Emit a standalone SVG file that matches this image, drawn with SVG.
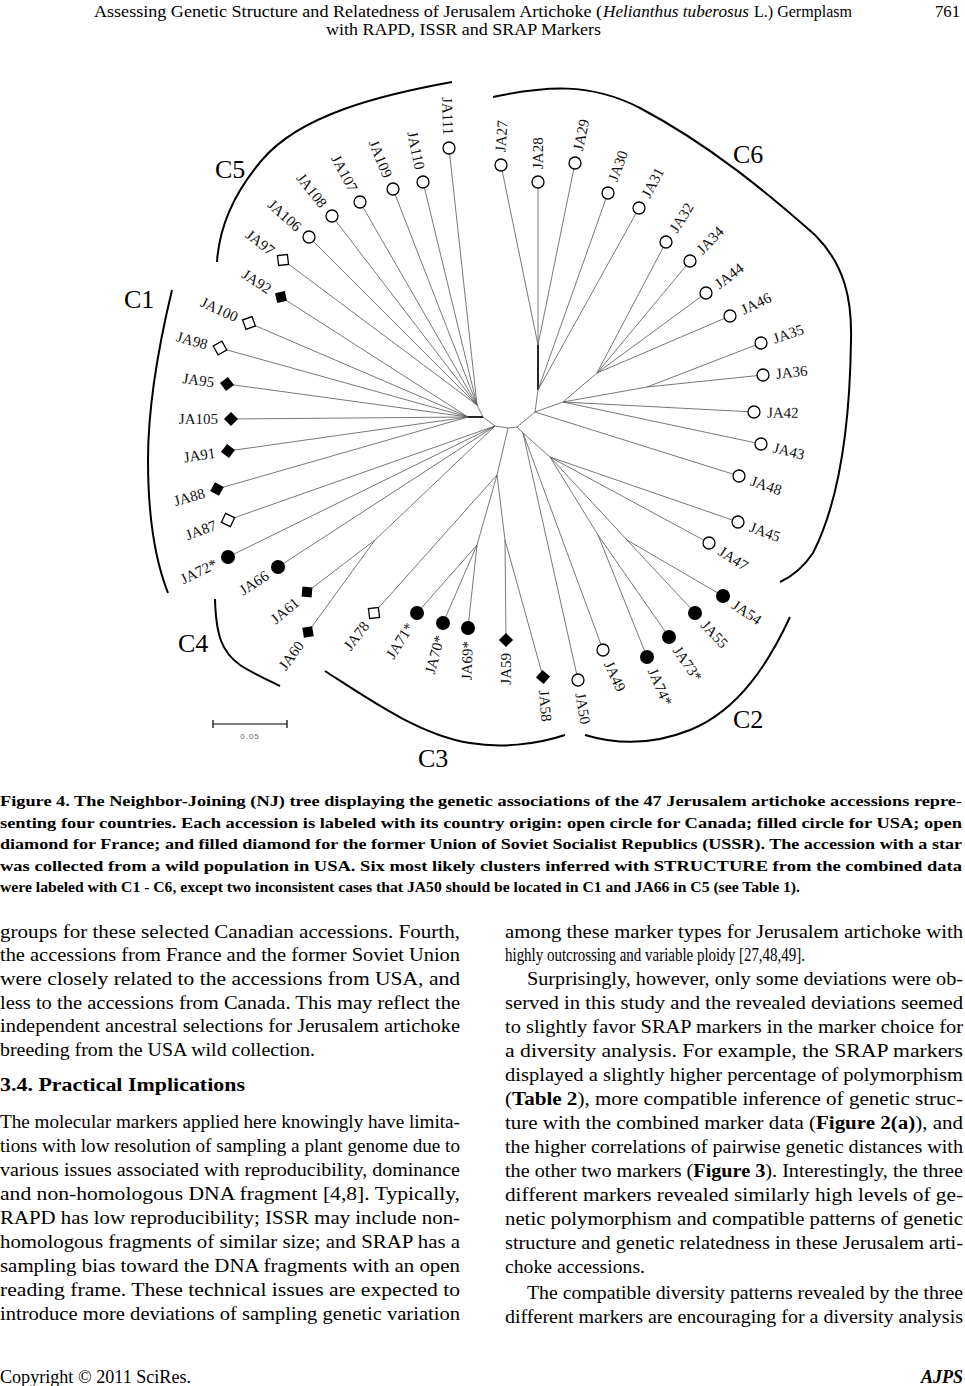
<svg xmlns="http://www.w3.org/2000/svg" xmlns:xlink="http://www.w3.org/1999/xlink" width="965" height="1386" viewBox="0 0 965 1386">
<style>
.br{stroke:#555;stroke-width:0.8;fill:none}
.thk{stroke:#000;stroke-width:1.7;fill:none}
.lb{font-family:"Liberation Serif",serif;font-size:15px;fill:#111}
.o{fill:#fff;stroke:#000;stroke-width:1.3}
.f{fill:#000}
.arc{fill:none;stroke:#000;stroke-width:2}
.cl{font-family:"Liberation Serif",serif;font-size:26px;fill:#000}
.hd{font-family:"Liberation Serif",serif;font-size:16px;fill:#000}
.cap{font-family:"Liberation Serif",serif;font-size:15.5px;font-weight:bold;fill:#000}
.bd{font-family:"Liberation Serif",serif;font-size:18px;fill:#000}
.b{font-weight:bold}
</style>
<defs>
<rect id="sq" x="-5" y="-5" width="10" height="10"/>
</defs>
<rect width="965" height="1386" fill="#fff"/>

<g id="header">
<text class="hd" x="94" y="17" textLength="508" lengthAdjust="spacingAndGlyphs">Assessing Genetic Structure and Relatedness of Jerusalem Artichoke (</text>
<text class="hd" x="603" y="17" font-style="italic" textLength="146" lengthAdjust="spacingAndGlyphs">Helianthus tuberosus</text>
<text class="hd" x="754" y="17" textLength="98" lengthAdjust="spacingAndGlyphs">L.) Germplasm</text>
<text class="hd" x="935" y="17" textLength="25" lengthAdjust="spacingAndGlyphs">761</text>
<text class="hd" x="326" y="35" textLength="275" lengthAdjust="spacingAndGlyphs">with RAPD, ISSR and SRAP Markers</text>
</g>

<g id="connectors">
<line class="thk" x1="468" y1="417" x2="483" y2="417"/>
<line class="thk" x1="538" y1="390" x2="538" y2="345"/>
<polyline class="br" points="483,417 495,426 508,428 517,427 535,412"/>
<line class="br" x1="477" y1="405" x2="483" y2="417"/>
<line class="br" x1="375" y1="540" x2="495" y2="426"/>
<line class="br" x1="497" y1="475" x2="508" y2="428"/>
<line class="br" x1="477" y1="545" x2="497" y2="475"/>
<line class="br" x1="505" y1="540" x2="497" y2="475"/>
<line class="br" x1="523" y1="433" x2="517" y2="427"/>
<line class="br" x1="550" y1="457" x2="523" y2="433"/>
<line class="br" x1="598" y1="535" x2="550" y2="457"/>
<line class="br" x1="627" y1="540" x2="550" y2="457"/>
<line class="br" x1="563" y1="402" x2="535" y2="412"/>
<line class="br" x1="647" y1="387" x2="563" y2="402"/>
<line class="br" x1="597" y1="373" x2="563" y2="402"/>
<line class="br" x1="538" y1="390" x2="535" y2="412"/>
<line class="br" x1="468" y1="417" x2="220" y2="348"/>
<line class="br" x1="468" y1="417" x2="227" y2="384"/>
<line class="br" x1="468" y1="417" x2="231" y2="419"/>
<line class="br" x1="468" y1="417" x2="228" y2="451"/>
<line class="br" x1="468" y1="417" x2="217" y2="489"/>
<line class="br" x1="468" y1="417" x2="281" y2="297"/>
<line class="br" x1="468" y1="417" x2="249" y2="323"/>
<line class="br" x1="495" y1="426" x2="228" y2="520"/>
<line class="br" x1="495" y1="426" x2="228" y2="557"/>
<line class="br" x1="495" y1="426" x2="278" y2="567"/>
<line class="br" x1="375" y1="540" x2="307" y2="592"/>
<line class="br" x1="375" y1="540" x2="308" y2="632"/>
<line class="br" x1="497" y1="475" x2="374" y2="613"/>
<line class="br" x1="477" y1="545" x2="417" y2="613"/>
<line class="br" x1="477" y1="545" x2="443" y2="623"/>
<line class="br" x1="477" y1="545" x2="468" y2="628"/>
<line class="br" x1="505" y1="540" x2="506" y2="640"/>
<line class="br" x1="505" y1="540" x2="543" y2="677"/>
<line class="br" x1="523" y1="433" x2="578" y2="680"/>
<line class="br" x1="523" y1="433" x2="603" y2="650"/>
<line class="br" x1="598" y1="535" x2="647" y2="657"/>
<line class="br" x1="598" y1="535" x2="669" y2="637"/>
<line class="br" x1="627" y1="540" x2="695" y2="613"/>
<line class="br" x1="627" y1="540" x2="723" y2="596"/>
<line class="br" x1="550" y1="457" x2="709" y2="543"/>
<line class="br" x1="550" y1="457" x2="738" y2="522"/>
<line class="br" x1="535" y1="412" x2="739" y2="476"/>
<line class="br" x1="563" y1="402" x2="761" y2="444"/>
<line class="br" x1="563" y1="402" x2="754" y2="412"/>
<line class="br" x1="647" y1="387" x2="763" y2="375"/>
<line class="br" x1="647" y1="387" x2="761" y2="343"/>
<line class="br" x1="597" y1="373" x2="730" y2="316"/>
<line class="br" x1="597" y1="373" x2="706" y2="293"/>
<line class="br" x1="597" y1="373" x2="690" y2="261"/>
<line class="br" x1="597" y1="373" x2="666" y2="242"/>
<line class="br" x1="538" y1="390" x2="639" y2="208"/>
<line class="br" x1="538" y1="390" x2="608" y2="193"/>
<line class="br" x1="538" y1="345" x2="575" y2="163"/>
<line class="br" x1="538" y1="345" x2="538" y2="182"/>
<line class="br" x1="538" y1="345" x2="501" y2="165"/>
<line class="br" x1="477" y1="405" x2="449" y2="148"/>
<line class="br" x1="477" y1="405" x2="423" y2="182"/>
<line class="br" x1="477" y1="405" x2="393" y2="189"/>
<line class="br" x1="477" y1="405" x2="360" y2="202"/>
<line class="br" x1="477" y1="405" x2="332" y2="216"/>
<line class="br" x1="477" y1="405" x2="309" y2="237"/>
<line class="br" x1="477" y1="405" x2="283" y2="260"/>
</g>

<g id="clusters">
<path class="arc" d="M452,82 C380,95 300,115 262,160 C232,195 219,230 217,262"/>
<path class="arc" d="M493,97 C545,86 590,82 640,108 C710,145 770,195 815,235 C845,265 852,300 851,340 C850,420 840,500 813,553 C803,568 793,576 780,582"/>
<path class="arc" d="M172,290 C160,340 148,400 148,460 C148,515 155,560 168,593"/>
<path class="arc" d="M215,599 C216,636 222,652 240,665 C252,673 266,679 280,686"/>
<path class="arc" d="M325,671 C370,700 420,735 470,743 C500,748 535,745 565,735"/>
<path class="arc" d="M790,617 C770,660 740,710 690,730 C650,746 615,744 585,735"/>
<text class="cl" x="124" y="308">C1</text>
<text class="cl" x="733" y="728">C2</text>
<text class="cl" x="418" y="767">C3</text>
<text class="cl" x="178" y="652">C4</text>
<text class="cl" x="215" y="178">C5</text>
<text class="cl" x="733" y="163">C6</text>
</g>

<g id="scalebar">
<path d="M213,724 H287 M213,720 V728 M287,720 V728" stroke="#000" stroke-width="1.2" fill="none"/>
<text x="250" y="739" text-anchor="middle" font-family="Liberation Sans, sans-serif" font-size="8" letter-spacing="1" fill="#666">0.05</text>
</g>

<g id="JA98"><use href="#sq" class="o" transform="translate(220,348) rotate(60.5)"/><text class="lb" x="207.5" y="344.5" dy="0.35em" text-anchor="end" transform="rotate(15.5 207.5 344.5)">JA98</text></g>
<g id="JA95"><use href="#sq" class="f" transform="translate(227,384) rotate(53)"/><text class="lb" x="214.1" y="382.2" dy="0.35em" text-anchor="end" transform="rotate(8 214.1 382.2)">JA95</text></g>
<g id="JA105"><use href="#sq" class="f" transform="translate(231,419) rotate(45)"/><text class="lb" x="218" y="419" dy="0.35em" text-anchor="end">JA105</text></g>
<g id="JA91"><use href="#sq" class="f" transform="translate(228,451) rotate(37)"/><text class="lb" x="215.1" y="452.8" dy="0.35em" text-anchor="end" transform="rotate(-8 215.1 452.8)">JA91</text></g>
<g id="JA88"><use href="#sq" class="f" transform="translate(217,489) rotate(29)"/><text class="lb" x="204.5" y="492.6" dy="0.35em" text-anchor="end" transform="rotate(-16 204.5 492.6)">JA88</text></g>
<g id="JA87"><use href="#sq" class="o" transform="translate(228,520) rotate(25)"/><text class="lb" x="215.8" y="524.4" dy="0.35em" text-anchor="end" transform="rotate(-20 215.8 524.4)">JA87</text></g>
<g id="JA72s"><circle class="f" cx="228" cy="557" r="7"/><text class="lb" x="216.3" y="562.7" dy="0.35em" text-anchor="end" transform="rotate(-26 216.3 562.7)">JA72*</text></g>
<g id="JA66"><circle class="f" cx="278" cy="567" r="7"/><text class="lb" x="267.1" y="574.1" dy="0.35em" text-anchor="end" transform="rotate(-33 267.1 574.1)">JA66</text></g>
<g id="JA61"><use href="#sq" class="f" transform="translate(307,592) rotate(5)"/><text class="lb" x="297" y="600.4" dy="0.35em" text-anchor="end" transform="rotate(-40 297 600.4)">JA61</text></g>
<g id="JA60"><use href="#sq" class="f" transform="translate(308,632) rotate(-9)"/><text class="lb" x="300.4" y="642.5" dy="0.35em" text-anchor="end" transform="rotate(-54 300.4 642.5)">JA60</text></g>
<g id="JA78"><use href="#sq" class="o" transform="translate(374,613) rotate(-7)"/><text class="lb" x="366" y="623.2" dy="0.35em" text-anchor="end" transform="rotate(-52 366 623.2)">JA78</text></g>
<g id="JA71s"><circle class="f" cx="417" cy="613" r="7"/><text class="lb" x="410.1" y="624" dy="0.35em" text-anchor="end" transform="rotate(-58 410.1 624)">JA71*</text></g>
<g id="JA70s"><circle class="f" cx="443" cy="623" r="7"/><text class="lb" x="439.6" y="635.6" dy="0.35em" text-anchor="end" transform="rotate(-75 439.6 635.6)">JA70*</text></g>
<g id="JA69s"><circle class="f" cx="468" cy="628" r="7"/><text class="lb" x="467.5" y="641" dy="0.35em" text-anchor="end" transform="rotate(-88 467.5 641)">JA69*</text></g>
<g id="JA59"><use href="#sq" class="f" transform="translate(506,640) rotate(45)"/><text class="lb" x="506" y="653" dy="0.35em" text-anchor="end" transform="rotate(-90 506 653)">JA59</text></g>
<g id="JA58"><use href="#sq" class="f" transform="translate(543,677) rotate(40)"/><text class="lb" x="544.1" y="690" dy="0.35em" transform="rotate(85 544.1 690)">JA58</text></g>
<g id="JA50"><circle class="o" cx="578" cy="680" r="6"/><text class="lb" x="580.3" y="692.8" dy="0.35em" transform="rotate(80 580.3 692.8)">JA50</text></g>
<g id="JA49"><circle class="o" cx="603" cy="650" r="6"/><text class="lb" x="608.5" y="661.8" dy="0.35em" transform="rotate(65 608.5 661.8)">JA49</text></g>
<g id="JA74s"><circle class="f" cx="647" cy="657" r="7"/><text class="lb" x="652.3" y="668.9" dy="0.35em" transform="rotate(66 652.3 668.9)">JA74*</text></g>
<g id="JA73s"><circle class="f" cx="669" cy="637" r="7"/><text class="lb" x="676.5" y="647.6" dy="0.35em" transform="rotate(55 676.5 647.6)">JA73*</text></g>
<g id="JA55"><circle class="f" cx="695" cy="613" r="7"/><text class="lb" x="703.9" y="622.5" dy="0.35em" transform="rotate(47 703.9 622.5)">JA55</text></g>
<g id="JA54"><circle class="f" cx="723" cy="596" r="7"/><text class="lb" x="733.8" y="603.3" dy="0.35em" transform="rotate(34 733.8 603.3)">JA54</text></g>
<g id="JA47"><circle class="o" cx="709" cy="543" r="6"/><text class="lb" x="720" y="549.9" dy="0.35em" transform="rotate(32 720 549.9)">JA47</text></g>
<g id="JA45"><circle class="o" cx="738" cy="522" r="6"/><text class="lb" x="750.2" y="526.4" dy="0.35em" transform="rotate(20 750.2 526.4)">JA45</text></g>
<g id="JA48"><circle class="o" cx="739" cy="476" r="6"/><text class="lb" x="751.3" y="480.2" dy="0.35em" transform="rotate(19 751.3 480.2)">JA48</text></g>
<g id="JA43"><circle class="o" cx="761" cy="444" r="6"/><text class="lb" x="773.6" y="447.1" dy="0.35em" transform="rotate(14 773.6 447.1)">JA43</text></g>
<g id="JA42"><circle class="o" cx="754" cy="412" r="6"/><text class="lb" x="767" y="412.2" dy="0.35em" transform="rotate(1 767 412.2)">JA42</text></g>
<g id="JA36"><circle class="o" cx="763" cy="375" r="6"/><text class="lb" x="775.9" y="373.6" dy="0.35em" transform="rotate(-6 775.9 373.6)">JA36</text></g>
<g id="JA35"><circle class="o" cx="761" cy="343" r="6"/><text class="lb" x="773.3" y="338.8" dy="0.35em" transform="rotate(-19 773.3 338.8)">JA35</text></g>
<g id="JA46"><circle class="o" cx="730" cy="316" r="6"/><text class="lb" x="741.7" y="310.3" dy="0.35em" transform="rotate(-26 741.7 310.3)">JA46</text></g>
<g id="JA44"><circle class="o" cx="706" cy="293" r="6"/><text class="lb" x="716.4" y="285.2" dy="0.35em" transform="rotate(-37 716.4 285.2)">JA44</text></g>
<g id="JA34"><circle class="o" cx="690" cy="261" r="6"/><text class="lb" x="699" y="251.6" dy="0.35em" transform="rotate(-46 699 251.6)">JA34</text></g>
<g id="JA32"><circle class="o" cx="666" cy="242" r="6"/><text class="lb" x="672.9" y="231" dy="0.35em" transform="rotate(-58 672.9 231)">JA32</text></g>
<g id="JA31"><circle class="o" cx="639" cy="208" r="6"/><text class="lb" x="645.1" y="196.5" dy="0.35em" transform="rotate(-62 645.1 196.5)">JA31</text></g>
<g id="JA30"><circle class="o" cx="608" cy="193" r="6"/><text class="lb" x="612.4" y="180.8" dy="0.35em" transform="rotate(-70 612.4 180.8)">JA30</text></g>
<g id="JA29"><circle class="o" cx="575" cy="163" r="6"/><text class="lb" x="577.7" y="150.3" dy="0.35em" transform="rotate(-78 577.7 150.3)">JA29</text></g>
<g id="JA28"><circle class="o" cx="538" cy="182" r="6"/><text class="lb" x="538" y="169" dy="0.35em" transform="rotate(-90 538 169)">JA28</text></g>
<g id="JA27"><circle class="o" cx="501" cy="165" r="6"/><text class="lb" x="500" y="152" dy="0.35em" transform="rotate(-86 500 152)">JA27</text></g>
<g id="JA111"><circle class="o" cx="449" cy="148" r="6"/><text class="lb" x="448.5" y="135" dy="0.35em" text-anchor="end" transform="rotate(88 448.5 135)">JA111</text></g>
<g id="JA110"><circle class="o" cx="423" cy="182" r="6"/><text class="lb" x="420.3" y="169.3" dy="0.35em" text-anchor="end" transform="rotate(78 420.3 169.3)">JA110</text></g>
<g id="JA109"><circle class="o" cx="393" cy="189" r="6"/><text class="lb" x="388.1" y="176.9" dy="0.35em" text-anchor="end" transform="rotate(68 388.1 176.9)">JA109</text></g>
<g id="JA107"><circle class="o" cx="360" cy="202" r="6"/><text class="lb" x="353.9" y="190.5" dy="0.35em" text-anchor="end" transform="rotate(62 353.9 190.5)">JA107</text></g>
<g id="JA108"><circle class="o" cx="332" cy="216" r="6"/><text class="lb" x="324" y="205.8" dy="0.35em" text-anchor="end" transform="rotate(52 324 205.8)">JA108</text></g>
<g id="JA106"><circle class="o" cx="309" cy="237" r="6"/><text class="lb" x="299.3" y="228.3" dy="0.35em" text-anchor="end" transform="rotate(42 299.3 228.3)">JA106</text></g>
<g id="JA97"><use href="#sq" class="o" transform="translate(283,260) rotate(83)"/><text class="lb" x="272.8" y="252" dy="0.35em" text-anchor="end" transform="rotate(38 272.8 252)">JA97</text></g>
<g id="JA92"><use href="#sq" class="f" transform="translate(281,297) rotate(78)"/><text class="lb" x="270.1" y="289.9" dy="0.35em" text-anchor="end" transform="rotate(33 270.1 289.9)">JA92</text></g>
<g id="JA100"><use href="#sq" class="o" transform="translate(249,323) rotate(70)"/><text class="lb" x="237.2" y="317.5" dy="0.35em" text-anchor="end" transform="rotate(25 237.2 317.5)">JA100</text></g>

<g id="caption">
<text class="cap" x="0" y="806" textLength="962" lengthAdjust="spacingAndGlyphs">Figure 4. The Neighbor-Joining (NJ) tree displaying the genetic associations of the 47 Jerusalem artichoke accessions repre-</text>
<text class="cap" x="0" y="828" textLength="962" lengthAdjust="spacingAndGlyphs">senting four countries. Each accession is labeled with its country origin: open circle for Canada; filled circle for USA; open</text>
<text class="cap" x="0" y="849" textLength="962" lengthAdjust="spacingAndGlyphs">diamond for France; and filled diamond for the former Union of Soviet Socialist Republics (USSR). The accession with a star</text>
<text class="cap" x="0" y="871" textLength="962" lengthAdjust="spacingAndGlyphs">was collected from a wild population in USA. Six most likely clusters inferred with STRUCTURE from the combined data</text>
<text class="cap" x="0" y="892" textLength="800" lengthAdjust="spacingAndGlyphs">were labeled with C1 - C6, except two inconsistent cases that JA50 should be located in C1 and JA66 in C5 (see Table 1).</text>
</g>

<g id="body-left">
<text class="bd" x="0" y="938" textLength="460" lengthAdjust="spacingAndGlyphs">groups for these selected Canadian accessions. Fourth,</text>
<text class="bd" x="0" y="961" textLength="460" lengthAdjust="spacingAndGlyphs">the accessions from France and the former Soviet Union</text>
<text class="bd" x="0" y="985" textLength="460" lengthAdjust="spacingAndGlyphs">were closely related to the accessions from USA, and</text>
<text class="bd" x="0" y="1009" textLength="460" lengthAdjust="spacingAndGlyphs">less to the accessions from Canada. This may reflect the</text>
<text class="bd" x="0" y="1032" textLength="460" lengthAdjust="spacingAndGlyphs">independent ancestral selections for Jerusalem artichoke</text>
<text class="bd" x="0" y="1056" textLength="315" lengthAdjust="spacingAndGlyphs">breeding from the USA wild collection.</text>
<text class="bd b" x="0" y="1091" font-size="19" textLength="245" lengthAdjust="spacingAndGlyphs">3.4. Practical Implications</text>
<text class="bd" x="0" y="1128" textLength="460" lengthAdjust="spacingAndGlyphs">The molecular markers applied here knowingly have limita-</text>
<text class="bd" x="0" y="1152" textLength="460" lengthAdjust="spacingAndGlyphs">tions with low resolution of sampling a plant genome due to</text>
<text class="bd" x="0" y="1176" textLength="460" lengthAdjust="spacingAndGlyphs">various issues associated with reproducibility, dominance</text>
<text class="bd" x="0" y="1200" textLength="460" lengthAdjust="spacingAndGlyphs">and non-homologous DNA fragment [4,8]. Typically,</text>
<text class="bd" x="0" y="1224" textLength="460" lengthAdjust="spacingAndGlyphs">RAPD has low reproducibility; ISSR may include non-</text>
<text class="bd" x="0" y="1248" textLength="460" lengthAdjust="spacingAndGlyphs">homologous fragments of similar size; and SRAP has a</text>
<text class="bd" x="0" y="1272" textLength="460" lengthAdjust="spacingAndGlyphs">sampling bias toward the DNA fragments with an open</text>
<text class="bd" x="0" y="1296" textLength="460" lengthAdjust="spacingAndGlyphs">reading frame. These technical issues are expected to</text>
<text class="bd" x="0" y="1320" textLength="460" lengthAdjust="spacingAndGlyphs">introduce more deviations of sampling genetic variation</text>
</g>

<g id="body-right">
<text class="bd" x="505" y="938" textLength="458" lengthAdjust="spacingAndGlyphs">among these marker types for Jerusalem artichoke with</text>
<text class="bd" x="505" y="961" textLength="300" lengthAdjust="spacingAndGlyphs">highly outcrossing and variable ploidy [27,48,49].</text>
<text class="bd" x="527" y="985" textLength="436" lengthAdjust="spacingAndGlyphs">Surprisingly, however, only some deviations were ob-</text>
<text class="bd" x="505" y="1009" textLength="458" lengthAdjust="spacingAndGlyphs">served in this study and the revealed deviations seemed</text>
<text class="bd" x="505" y="1033" textLength="458" lengthAdjust="spacingAndGlyphs">to slightly favor SRAP markers in the marker choice for</text>
<text class="bd" x="505" y="1057" textLength="458" lengthAdjust="spacingAndGlyphs">a diversity analysis. For example, the SRAP markers</text>
<text class="bd" x="505" y="1081" textLength="458" lengthAdjust="spacingAndGlyphs">displayed a slightly higher percentage of polymorphism</text>
<text class="bd" x="505" y="1105" textLength="458" lengthAdjust="spacingAndGlyphs">(<tspan class="b">Table 2</tspan>), more compatible inference of genetic struc-</text>
<text class="bd" x="505" y="1129" textLength="458" lengthAdjust="spacingAndGlyphs">ture with the combined marker data (<tspan class="b">Figure 2(a)</tspan>), and</text>
<text class="bd" x="505" y="1153" textLength="458" lengthAdjust="spacingAndGlyphs">the higher correlations of pairwise genetic distances with</text>
<text class="bd" x="505" y="1177" textLength="458" lengthAdjust="spacingAndGlyphs">the other two markers (<tspan class="b">Figure 3</tspan>). Interestingly, the three</text>
<text class="bd" x="505" y="1201" textLength="458" lengthAdjust="spacingAndGlyphs">different markers revealed similarly high levels of ge-</text>
<text class="bd" x="505" y="1225" textLength="458" lengthAdjust="spacingAndGlyphs">netic polymorphism and compatible patterns of genetic</text>
<text class="bd" x="505" y="1249" textLength="458" lengthAdjust="spacingAndGlyphs">structure and genetic relatedness in these Jerusalem arti-</text>
<text class="bd" x="505" y="1273" textLength="140" lengthAdjust="spacingAndGlyphs">choke accessions.</text>
<text class="bd" x="527" y="1299" textLength="436" lengthAdjust="spacingAndGlyphs">The compatible diversity patterns revealed by the three</text>
<text class="bd" x="505" y="1323" textLength="458" lengthAdjust="spacingAndGlyphs">different markers are encouraging for a diversity analysis</text>
</g>

<g id="footer">
<text class="bd" x="0" y="1383" font-size="16" textLength="191" lengthAdjust="spacingAndGlyphs">Copyright © 2011 SciRes.</text>
<text class="bd b" x="963" y="1383" font-size="16" font-style="italic" text-anchor="end">AJPS</text>
</g>
</svg>
